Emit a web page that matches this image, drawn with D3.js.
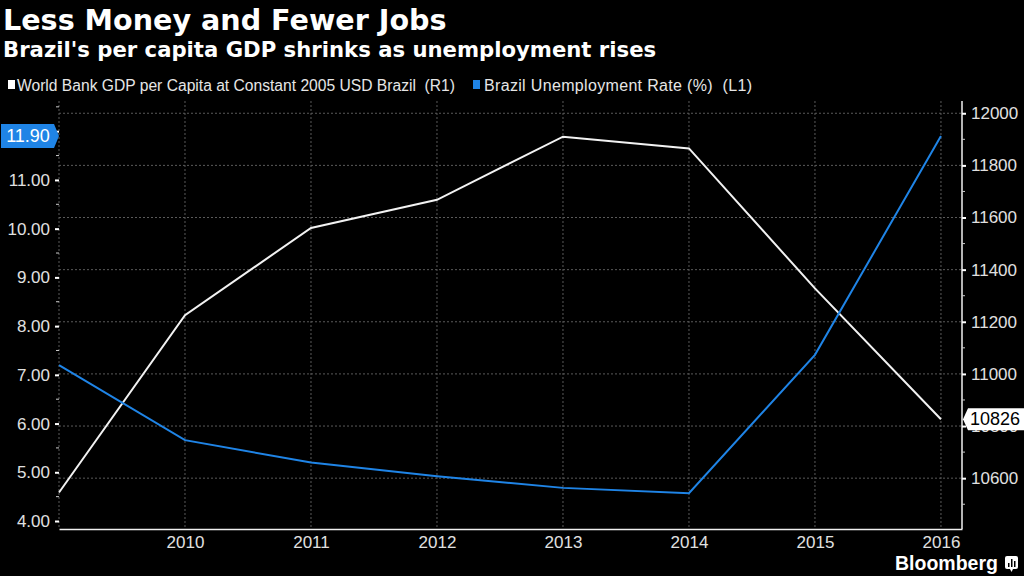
<!DOCTYPE html>
<html>
<head>
<meta charset="utf-8">
<script src="https://cdn.jsdelivr.net/npm/d3@7"></script>
<style>
  html, body { margin: 0; padding: 0; background: #000; }
  svg { display: block; }
  text { white-space: pre; }
</style>
</head>
<body>
<svg id="chart" width="1024" height="576"></svg>
<script>
// ---- data ----
const years = [2009, 2010, 2011, 2012, 2013, 2014, 2015, 2016];
const gdpPerCapita = [10545, 11225, 11560, 11668, 11910, 11865, 11328, 10826];
const unemployment = [7.2, 5.66, 5.2, 4.92, 4.68, 4.57, 7.41, 11.9];
const xTickYears = [2010, 2011, 2012, 2013, 2014, 2015, 2016];
const leftTicks = [4, 5, 6, 7, 8, 9, 10, 11, 12];
const rightTicks = [10600, 10800, 11000, 11200, 11400, 11600, 11800, 12000];
const titleText = "Less Money and Fewer Jobs";
const subtitleText = "Brazil's per capita GDP shrinks as unemployment rises";
const legendLabels = ["World Bank GDP per Capita at Constant 2005 USD Brazil  (R1)", "Brazil Unemployment Rate (%)  (L1)"];

const svg = d3.select("#chart");
const W = 1024, H = 576;
const L = 59, R = 962, T = 101, B = 529;
const white = "#f2f2f2", blue = "#1f84e6", grid = "#5a5a5a", tickCol = "#e0e0e0";

svg.append("rect").attr("width", W).attr("height", H).attr("fill", "#000");

const x = d3.scaleLinear().domain([2009, 2016.167]).range([L, R]);
const yL = d3.scaleLinear().domain([3.836, 12.62]).range([B, T]);
const yR = d3.scaleLinear().domain([10405, 12047]).range([B, T]);

// titles
svg.append("text").attr("x", 3).attr("y", 30).text(titleText)
  .attr("fill", "#fff").attr("font-family", "DejaVu Sans").attr("font-weight", "bold").attr("font-size", 28.6);
svg.append("text").attr("x", 3).attr("y", 57).text(subtitleText)
  .attr("fill", "#fff").attr("font-family", "DejaVu Sans").attr("font-weight", "bold").attr("font-size", 21.2);

// legend
const lg = svg.append("g").attr("font-family", "Liberation Sans").attr("font-size", 16).attr("fill", "#e6e6e6");
lg.append("rect").attr("x", 8).attr("y", 80).attr("width", 7).attr("height", 9).attr("fill", "#fff");
lg.append("text").attr("x", 17).attr("y", 91).attr("textLength", 438).attr("lengthAdjust", "spacingAndGlyphs").text(legendLabels[0]);
lg.append("rect").attr("x", 473).attr("y", 80).attr("width", 7).attr("height", 9).attr("fill", blue);
lg.append("text").attr("x", 484).attr("y", 91).attr("textLength", 268).attr("lengthAdjust", "spacing").text(legendLabels[1]);

// gridlines
const g = svg.append("g");
g.selectAll(".hg").data(rightTicks).join("line")
  .attr("x1", L).attr("x2", R).attr("y1", d => yR(d)).attr("y2", d => yR(d))
  .attr("stroke", grid).attr("stroke-width", 1).attr("stroke-dasharray", "2,2");
g.selectAll(".vg").data([2009].concat(xTickYears)).join("line")
  .attr("x1", d => x(d)).attr("x2", d => x(d)).attr("y1", T).attr("y2", B)
  .attr("stroke", grid).attr("stroke-width", 1).attr("stroke-dasharray", "2,2");

// bottom axis
const xAxis = d3.axisBottom(x).tickValues(xTickYears).tickFormat(d3.format("d")).tickSize(0).tickPadding(7);
const xg = svg.append("g").attr("transform", `translate(0,${B})`).call(xAxis);
xg.select(".domain").attr("stroke", "#f0f0f0").attr("stroke-width", 1.5);
xg.selectAll("text").attr("fill", tickCol).attr("font-family", "Liberation Sans").attr("font-size", 17);

// left axis
const yLAxis = d3.axisLeft(yL).tickValues(leftTicks).tickFormat(d3.format(".2f")).tickSize(4).tickPadding(5);
const ylg = svg.append("g").attr("transform", `translate(${L},0)`).call(yLAxis);
ylg.select(".domain").remove();
ylg.selectAll("line").attr("stroke", "#fff").attr("stroke-width", 2);
ylg.selectAll("text").attr("fill", tickCol).attr("font-family", "Liberation Sans").attr("font-size", 17);
const leftMinor = d3.range(4.5, 12.6, 1);
svg.append("g").selectAll("line").data(leftMinor).join("line")
  .attr("x1", L - 3).attr("x2", L).attr("y1", d => yL(d)).attr("y2", d => yL(d))
  .attr("stroke", "#ccc").attr("stroke-width", 1);

// right axis
const yRAxis = d3.axisRight(yR).tickValues(rightTicks).tickFormat(d3.format("d")).tickSize(4).tickPadding(5);
const yrg = svg.append("g").attr("transform", `translate(${R},0)`).call(yRAxis);
yrg.select(".domain").attr("stroke", "#f0f0f0").attr("stroke-width", 1.5).attr("d", `M0,${T}V${B}`);
yrg.selectAll("line").attr("stroke", "#fff").attr("stroke-width", 2);
yrg.selectAll("text").attr("fill", tickCol).attr("font-family", "Liberation Sans").attr("font-size", 17);
const rightMinor = d3.range(10500, 12001, 200);
svg.append("g").selectAll("line").data(rightMinor).join("line")
  .attr("x1", R).attr("x2", R + 3).attr("y1", d => yR(d)).attr("y2", d => yR(d))
  .attr("stroke", "#ccc").attr("stroke-width", 1);

// lines
const gdpLine = d3.line().x((d, i) => x(years[i])).y(d => yR(d));
const unLine = d3.line().x((d, i) => x(years[i])).y(d => yL(d));
svg.append("path").datum(gdpPerCapita).attr("d", gdpLine)
  .attr("fill", "none").attr("stroke", white).attr("stroke-width", 2);
svg.append("path").datum(unemployment).attr("d", unLine)
  .attr("fill", "none").attr("stroke", blue).attr("stroke-width", 2);

// last value labels
const lastU = unemployment[unemployment.length - 1];
const yu = yL(lastU);
svg.append("path")
  .attr("d", `M1,${yu - 12}H54L59,${yu}L54,${yu + 12}H1Z`).attr("fill", blue);
svg.append("text").attr("x", 28).attr("y", yu + 6).attr("text-anchor", "middle")
  .attr("fill", "#fff").attr("font-family", "Liberation Sans").attr("font-size", 18)
  .text(d3.format(".2f")(lastU));

const lastG = gdpPerCapita[gdpPerCapita.length - 1];
const yg = yR(lastG);
svg.append("path")
  .attr("d", `M963,${yg}L968,${yg - 11}H1024V${yg + 11}H968Z`).attr("fill", "#fff");
svg.append("text").attr("x", 995).attr("y", yg + 6).attr("text-anchor", "middle")
  .attr("fill", "#000").attr("font-family", "Liberation Sans").attr("font-size", 18)
  .text(d3.format("d")(lastG));

// Bloomberg logo
svg.append("text").attr("x", 895).attr("y", 570).text("Bloomberg")
  .attr("fill", "#fff").attr("font-family", "Liberation Sans").attr("font-weight", "bold").attr("font-size", 19.5);
const logo = svg.append("g").attr("transform", "translate(1005,556)");
logo.append("rect").attr("width", 13).attr("height", 13).attr("rx", 2).attr("fill", "#fff");
logo.append("path").attr("d", "M5,13L6.5,16L8,13Z").attr("fill", "#fff");
logo.append("rect").attr("x", 3).attr("y", 7).attr("width", 1.5).attr("height", 4).attr("fill", "#000");
logo.append("rect").attr("x", 6).attr("y", 3).attr("width", 1.5).attr("height", 8).attr("fill", "#000");
logo.append("rect").attr("x", 9).attr("y", 5).attr("width", 1.5).attr("height", 6).attr("fill", "#000");
</script>
</body>
</html>
